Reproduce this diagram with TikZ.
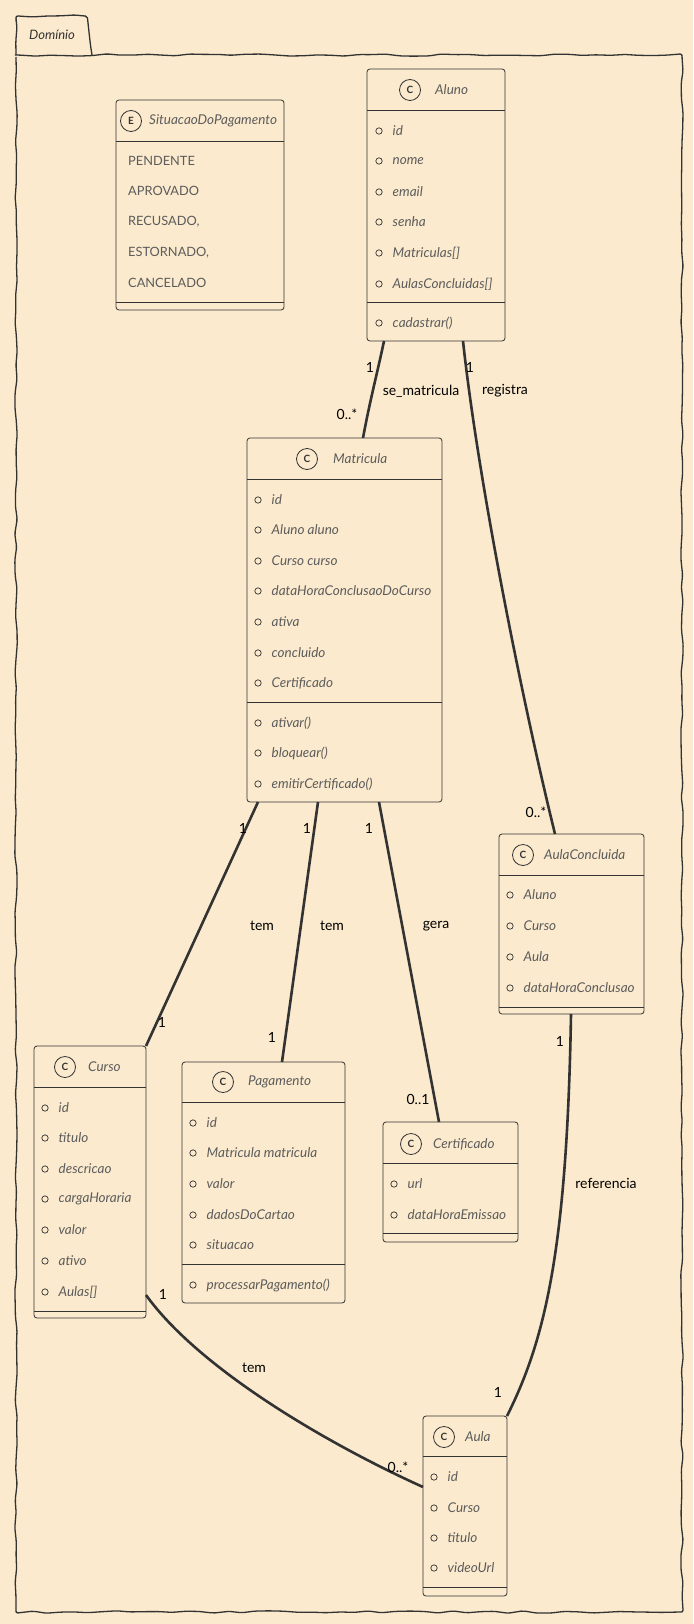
\documentclass[tikz,border=0pt]{standalone}
\usepackage{fontspec}
\setmainfont{Lato}
\usetikzlibrary{decorations.pathmorphing,calc}
\definecolor{bg}{HTML}{FBEACD}
\definecolor{ink}{HTML}{333333}
\definecolor{memc}{HTML}{5C5C5C}
\tikzset{
  cls/.style={draw=ink, line width=0.8pt, rounded corners=3pt, inner sep=0pt, outer sep=0pt, fill=bg},
  sepl/.style={draw=ink, line width=0.8pt},
  mem/.style={anchor=west, inner sep=0pt, text=memc, font=\fontsize{13.5}{15}\selectfont\itshape},
  enumv/.style={anchor=west, inner sep=0pt, text=memc, font=\fontsize{12.8}{15}\selectfont},
  ttl/.style={anchor=west, inner sep=0pt, text=memc, font=\fontsize{13.5}{15}\selectfont\itshape},
  lbl/.style={inner sep=0pt, text=black, font=\fontsize{14}{16}\selectfont},
  assoc/.style={draw=ink, line width=2.6pt},
  vis/.style={draw=ink, line width=0.7pt},
  badge/.style={circle, draw=ink, line width=0.8pt, minimum size=21pt, inner sep=0pt, text=ink, font=\fontsize{10}{10}\selectfont\bfseries},
  framel/.style={draw=ink, line width=1.3pt, decorate, decoration={random steps, segment length=14pt, amplitude=1.2pt}, rounded corners=2pt}
}
\newcommand\mbr[4]{%
  \draw[vis] (#2,#3) circle[radius=3.2pt];
  \node[mem] (#1) at ({#2+13.5},#3) {#4};}
\newcommand\clsbox[5]{%
  \node[cls, anchor=north west, minimum width={#4-#2}, minimum height={#5-#3}] (#1) at (#2,#3) {};}
\newcommand\sepline[2]{%
  \draw[sepl] (#1.west |- 0,#2) -- (#1.east |- 0,#2);}
\begin{document}
\begin{tikzpicture}[x=1pt, y=-1pt]
\pgfmathsetseed{7}
\path[use as bounding box, fill=bg] (0,0) rectangle (693,1624);

% package frame
\draw[framel] (16,55) -- (16,1612) -- (682,1612) -- (682,55) -- cycle;
\draw[framel] (16,55) -- (16,17) -- (86,16) -- (92,55);
\node[lbl, text=ink, font=\fontsize{13}{15}\selectfont\itshape] (dom) at (52,35) {Domínio};

% SituacaoDoPagamento
\clsbox{situacao}{116}{100}{284}{310}
\sepline{situacao}{141}
\sepline{situacao}{302}
\node[badge] (situacaoB) at (131,121) {E};
\node[ttl] (situacaoT) at (149,121) {SituacaoDoPagamento};
\node[enumv] (s1) at (128,161) {PENDENTE};
\node[enumv] (s2) at (128,191) {APROVADO};
\node[enumv] (s3) at (128,222) {RECUSADO,};
\node[enumv] (s4) at (128,253) {ESTORNADO,};
\node[enumv] (s5) at (128,283) {CANCELADO};

% Aluno
\clsbox{aluno}{367}{69}{505}{341}
\sepline{aluno}{110}
\sepline{aluno}{302}
\node[badge] (alunoB) at (410,90) {C};
\node[ttl] (alunoT) at (435,90) {Aluno};
\mbr{a1}{379}{131}{id}
\mbr{a2}{379}{161}{nome}
\mbr{a3}{379}{192}{email}
\mbr{a4}{379}{222}{senha}
\mbr{a5}{379}{253}{Matriculas[]}
\mbr{a6}{379}{284}{AulasConcluidas[]}
\mbr{a7}{379}{323}{cadastrar()}

% Matricula
\clsbox{matricula}{247}{438}{442}{802}
\sepline{matricula}{479}
\sepline{matricula}{702}
\node[badge] (matriculaB) at (307,459) {C};
\node[ttl] (matriculaT) at (333,459) {Matricula};
\mbr{m1}{258}{500}{id}
\mbr{m2}{258}{530}{Aluno aluno}
\mbr{m3}{258}{561}{Curso curso}
\mbr{m4}{258}{591}{dataHoraConclusaoDoCurso}
\mbr{m5}{258}{622}{ativa}
\mbr{m6}{258}{653}{concluido}
\mbr{m7}{258}{683}{Certificado}
\mbr{m8}{258}{723}{ativar()}
\mbr{m9}{258}{753}{bloquear()}
\mbr{m10}{258}{784}{emitirCertificado()}

% AulaConcluida
\clsbox{aulaconc}{499}{834}{644}{1014}
\sepline{aulaconc}{875}
\sepline{aulaconc}{1007}
\node[badge] (aulaconcB) at (523,855) {C};
\node[ttl] (aulaconcT) at (544,855) {AulaConcluida};
\mbr{c1}{510}{895}{Aluno}
\mbr{c2}{510}{926}{Curso}
\mbr{c3}{510}{957}{Aula}
\mbr{c4}{510}{988}{dataHoraConclusao}

% Curso
\clsbox{curso}{34}{1046}{146}{1318}
\sepline{curso}{1087}
\sepline{curso}{1311}
\node[badge] (cursoB) at (65,1067) {C};
\node[ttl] (cursoT) at (88,1067) {Curso};
\mbr{k1}{45}{1108}{id}
\mbr{k2}{45}{1138}{titulo}
\mbr{k3}{45}{1169}{descricao}
\mbr{k4}{45}{1199}{cargaHoraria}
\mbr{k5}{45}{1230}{valor}
\mbr{k6}{45}{1261}{ativo}
\mbr{k7}{45}{1292}{Aulas[]}

% Pagamento
\clsbox{pagamento}{182}{1062}{345}{1303}
\sepline{pagamento}{1102}
\sepline{pagamento}{1264}
\node[badge] (pagamentoB) at (223,1082) {C};
\node[ttl] (pagamentoT) at (248,1082) {Pagamento};
\mbr{p1}{193}{1123}{id}
\mbr{p2}{193}{1153}{Matricula matricula}
\mbr{p3}{193}{1184}{valor}
\mbr{p4}{193}{1215}{dadosDoCartao}
\mbr{p5}{193}{1245}{situacao}
\mbr{p6}{193}{1285}{processarPagamento()}

% Certificado
\clsbox{certificado}{383}{1122}{518}{1242}
\sepline{certificado}{1163}
\sepline{certificado}{1233}
\node[badge] (certificadoB) at (411,1144) {C};
\node[ttl] (certificadoT) at (433,1144) {Certificado};
\mbr{e1}{394}{1184}{url}
\mbr{e2}{394}{1215}{dataHoraEmissao}

% Aula
\clsbox{aula}{423}{1416}{507}{1596}
\sepline{aula}{1456}
\sepline{aula}{1587}
\node[badge] (aulaB) at (444,1437) {C};
\node[ttl] (aulaT) at (465,1437) {Aula};
\mbr{u1}{434}{1477}{id}
\mbr{u2}{434}{1508}{Curso}
\mbr{u3}{434}{1538}{titulo}
\mbr{u4}{434}{1568}{videoUrl}

% associations
\draw[assoc] (384,0 |- aluno.south) .. controls (378,370) and (370,400) .. (363,0 |- matricula.north);
\node[lbl] (l1a) at (370,367) {1};
\node[lbl] (l1b) at (421,391) {se\_matricula};
\node[lbl] (l1c) at (347,414) {0..*};

\draw[assoc] (463,0 |- aluno.south) .. controls (478,480) and (522,700) .. (555,0 |- aulaconc.north);
\node[lbl] (l2a) at (470,367) {1};
\node[lbl] (l2b) at (505,391) {registra};
\node[lbl] (l2c) at (536,812) {0..*};

\draw[assoc] (258,0 |- matricula.south) -- (curso.north east);
\node[lbl] (l3a) at (243,828) {1};
\node[lbl] (l3b) at (262,926) {tem};
\node[lbl] (l3c) at (162,1022) {1};

\draw[assoc] (318,0 |- matricula.south) -- (282,0 |- pagamento.north);
\node[lbl] (l4a) at (307,828) {1};
\node[lbl] (l4b) at (332,926) {tem};
\node[lbl] (l4c) at (272,1037) {1};

\draw[assoc] (379,0 |- matricula.south) -- (439,0 |- certificado.north);
\node[lbl] (l5a) at (369,828) {1};
\node[lbl] (l5b) at (436,926) {gera};
\node[lbl] (l5c) at (418,1099) {0..1};

\draw[assoc] (571,0 |- aulaconc.south) .. controls (567,1250) and (545,1340) .. (aula.north east);
\node[lbl] (l6a) at (560,1041) {1};
\node[lbl] (l6b) at (606,1183) {referencia};
\node[lbl] (l6c) at (498,1392) {1};

\draw[assoc] (curso.east |- 0,1295) .. controls (200,1370) and (330,1445) .. (aula.west |- 0,1487);
\node[lbl] (l7a) at (163,1294) {1};
\node[lbl] (l7b) at (254,1368) {tem};
\node[lbl] (l7c) at (398,1467) {0..*};
\end{tikzpicture}
\end{document}
